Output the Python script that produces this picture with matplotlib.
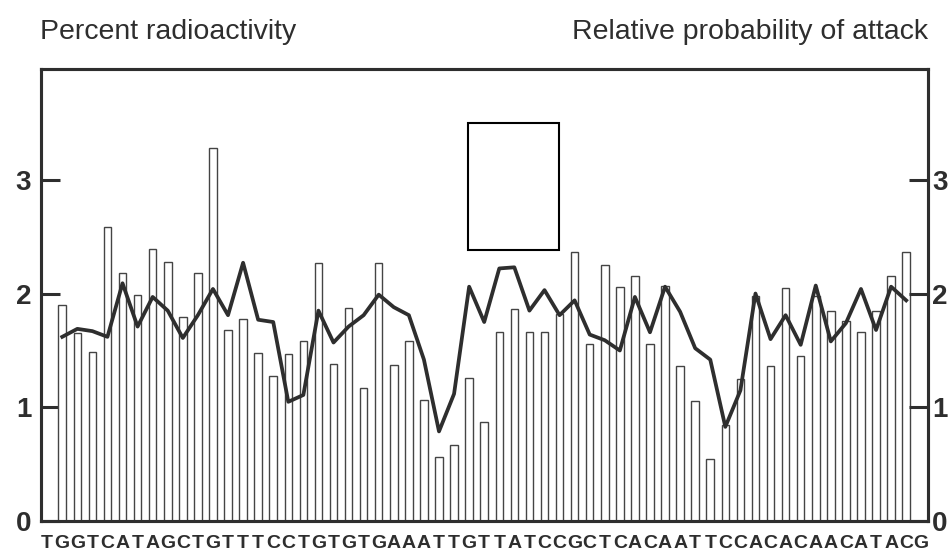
import matplotlib
matplotlib.use("Agg")
import matplotlib.pyplot as plt
from matplotlib.patches import Rectangle
import numpy as np

# DNA sequence along the bottom (one letter per position)
sequence = list("TGGTCATAGCTGTTTCCTGTGTGAAATTGTTATCCGCTCACAATTCCACACAACATACG")

# Percent radioactivity (bars), positions 1..57 of the sequence
radioactivity = [1.90, 1.65, 1.49, 2.58, 2.18, 1.99, 2.39, 2.28, 1.79, 2.18,
                 3.28, 1.68, 1.78, 1.48, 1.28, 1.47, 1.58, 2.27, 1.38, 1.87,
                 1.17, 2.27, 1.37, 1.58, 1.07, 0.57, 0.67, 1.26, 0.87, 1.66,
                 1.86, 1.66, 1.66, 1.82, 2.36, 1.56, 2.25, 2.06, 2.15, 1.56,
                 2.07, 1.36, 1.06, 0.55, 0.85, 1.25, 1.98, 1.36, 2.05, 1.45,
                 1.98, 1.85, 1.76, 1.66, 1.85, 2.15, 2.36]

# Relative probability of attack (line)
attack_prob = [1.62, 1.69, 1.67, 1.62, 2.09, 1.71, 1.97, 1.85, 1.61, 1.81,
               2.04, 1.81, 2.27, 1.77, 1.75, 1.05, 1.11, 1.85, 1.57, 1.71,
               1.81, 1.99, 1.88, 1.81, 1.42, 0.79, 1.12, 2.06, 1.75, 2.22,
               2.23, 1.85, 2.03, 1.81, 1.94, 1.64, 1.59, 1.50, 1.97, 1.66,
               2.06, 1.84, 1.52, 1.42, 0.83, 1.15, 2.00, 1.60, 1.81, 1.55,
               2.07, 1.58, 1.74, 2.04, 1.68, 2.06, 1.94]

yticks = [0, 1, 2, 3]

ink = "#2e2e2e"
plt.rcParams["font.family"] = ["Liberation Sans", "DejaVu Sans"]

fig = plt.figure(figsize=(9.49, 5.6), dpi=100)
ax = fig.add_axes([0.0432, 0.0688, 0.9347, 0.808])

pos = np.arange(1, len(radioactivity) + 1)
ax.bar(pos, radioactivity, width=0.5, facecolor="white", edgecolor="#444444",
       linewidth=1.0, zorder=2)
ax.plot(pos, attack_prob, color=ink, linewidth=2.7, zorder=3)

# empty marker box drawn in the original figure
ax.add_patch(Rectangle((27.93, 2.38), 6.04, 1.12, facecolor="white",
                       edgecolor="black", linewidth=1.5, zorder=4))

ax.set_xlim(-0.41, 58.45)
ax.set_ylim(0, 3.97)

ax.set_xticks(np.arange(len(sequence)))
ax.set_xticklabels(sequence, fontsize=14, fontweight="bold", color=ink)
ax.tick_params(axis="x", length=0, pad=10)

ax.set_yticks(yticks)
ax.set_yticklabels([str(t) for t in yticks], fontsize=20, fontweight="bold",
                   color=ink)
ax.tick_params(axis="y", direction="in", length=14, width=2.2, color=ink, pad=7)

ax2 = ax.twinx()
ax2.set_ylim(ax.get_ylim())
ax2.set_yticks(yticks)
ax2.set_yticklabels([str(t) for t in yticks], fontsize=20, fontweight="bold",
                    color=ink)
ax2.tick_params(axis="y", direction="in", length=14, width=2.2, color=ink, pad=3)

for a in (ax, ax2):
    for s in a.spines.values():
        s.set_linewidth(2.2)
        s.set_color(ink)

fig.text(0.042, 0.943, "Percent radioactivity", fontsize=20.5, color=ink,
         ha="left", va="center")
fig.text(0.978, 0.943, "Relative probability of attack", fontsize=20.5, color=ink,
         ha="right", va="center")

fig.savefig("out.png", dpi=100)
